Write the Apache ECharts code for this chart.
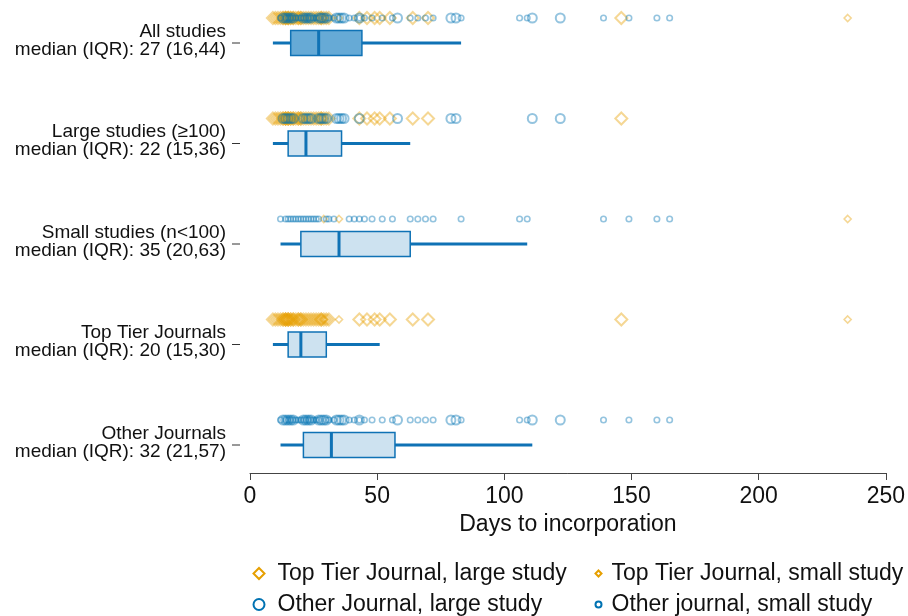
<!DOCTYPE html>
<html>
<head>
<meta charset="utf-8">
<script src="https://cdn.jsdelivr.net/npm/echarts@6/dist/echarts.min.js"></script>
<style>
  html, body { margin: 0; padding: 0; background: #fff; }
  #main { width: 908px; height: 616px; }
</style>
</head>
<body>
<div id="main"></div>
<script>
// rows of the chart, top to bottom
var categories = ['All studies', 'Large studies (\u2265100)', 'Small studies (n<100)', 'Top Tier Journals', 'Other Journals'];
var medians = [27, 22, 35, 20, 32];
var q1s = [16, 15, 20, 15, 21];
var q3s = [44, 36, 63, 30, 57];
var whiskerLow = [9, 9, 12, 9, 12];
var whiskerHigh = [83, 63, 109, 51, 111];

// days to incorporation per study
var ttLarge = [9, 10, 11, 12, 13, 13, 14, 14, 14, 15, 15, 15, 16, 16, 17, 17, 18, 19, 19, 20, 20,
  21, 22, 23, 24, 25, 26, 27, 28, 28, 29, 30, 31, 43, 46, 49, 51, 55, 64, 70, 146];
var ttSmall = [29, 35, 235];
var otherLarge = [13, 14, 15, 16, 17, 21, 22, 23, 24, 27, 28, 29, 30, 34, 35, 36, 37, 43, 58, 79, 81, 111, 122];
var otherSmall = [12, 14, 15, 16, 17, 18, 19, 20, 21, 22, 23, 24, 25, 26, 27, 30, 31, 33, 39, 41, 43, 45,
  48, 52, 56, 63, 66, 69, 72, 83, 106, 109, 139, 149, 160, 165];

var xTicks = [0, 50, 100, 150, 200, 250];

var chart = echarts.init(document.getElementById('main'));
var font = 'Liberation Sans';
var blue = '#0f72b5';

function rowsOf(values, rows) {
  var out = [];
  rows.forEach(function (r) {
    values.forEach(function (v) { out.push([v, r]); });
  });
  return out;
}

var boxData = categories.map(function (c, i) {
  return [i, whiskerLow[i], q1s[i], medians[i], q3s[i], whiskerHigh[i]];
});

function pointSeries(name, symbol, size, color, lw, data) {
  return {
    name: name,
    type: 'scatter',
    symbol: symbol,
    symbolSize: size,
    symbolOffset: [0, -25],
    clip: false,
    itemStyle: { color: 'rgba(0,0,0,0)', borderColor: color, borderWidth: lw, opacity: 0.42 },
    emphasis: { disabled: true },
    data: data
  };
}

var option = {
  animation: false,
  backgroundColor: '#fff',
  textStyle: { fontFamily: font },
  grid: { left: 250, right: 22, top: 43, bottom: 171 },
  xAxis: {
    type: 'value',
    min: xTicks[0],
    max: xTicks[xTicks.length - 1],
    interval: 50,
    offset: 28,
    splitLine: { show: false },
    axisLine: { show: true, lineStyle: { color: '#444', width: 1 } },
    axisTick: { show: true, length: 7, lineStyle: { color: '#444' } },
    axisLabel: { fontSize: 23, color: '#111', margin: 12, fontFamily: font },
    name: 'Days to incorporation',
    nameLocation: 'middle',
    nameGap: 39,
    nameTextStyle: { fontSize: 23, color: '#111', fontFamily: font }
  },
  yAxis: {
    type: 'category',
    inverse: true,
    boundaryGap: false,
    data: categories,
    offset: 10,
    axisLine: { show: false },
    axisTick: { show: false },
    axisLabel: {
      color: '#111',
      fontFamily: font,
      align: 'right',
      margin: 14,
      formatter: function (v, i) {
        return '{a|' + v + '}\n{a|median (IQR): ' + medians[i] + ' (' + q1s[i] + ',' + q3s[i] + ')}\n{s| }';
      },
      rich: {
        a: { fontSize: 19, lineHeight: 18, color: '#111', fontFamily: font, align: 'right' },
        s: { fontSize: 5, lineHeight: 5, align: 'right' }
      }
    }
  },
  legend: [{
    orient: 'vertical',
    left: 252.5,
    top: 562,
    padding: 0,
    itemGap: 8,
    itemWidth: 11,
    itemHeight: 11,
    itemStyle: { opacity: 1, borderWidth: 2 },
    textStyle: { fontSize: 23, color: '#111', fontFamily: font, padding: [0, 0, 0, 8] },
    data: ['Top Tier Journal, large study', 'Other Journal, large study']
  }, {
    orient: 'vertical',
    left: 594.5,
    top: 562,
    padding: 0,
    itemGap: 8,
    itemWidth: 6,
    itemHeight: 6,
    itemStyle: { opacity: 1, borderWidth: 2 },
    textStyle: { fontSize: 23, color: '#111', fontFamily: font, padding: [0, 0, 0, 5] },
    data: ['Top Tier Journal, small study', 'Other journal, small study']
  }],
  series: [
    {
      type: 'custom',
      name: 'boxes',
      encode: { x: [1, 2, 3, 4, 5], y: 0 },
      renderItem: function (params, api) {
        var i = api.value(0);
        var lo = api.coord([api.value(1), i]);
        var a = api.coord([api.value(2), i]);
        var m = api.coord([api.value(3), i]);
        var b = api.coord([api.value(4), i]);
        var hi = api.coord([api.value(5), i]);
        var x0 = api.coord([xTicks[0], i])[0];
        var cy = lo[1], h = 25;
        var fill = i === 0 ? '#66aad6' : '#cde2f0';
        return {
          type: 'group',
          children: [
            // category tick, drawn just left of the plot like the y axis tick
            { type: 'line', shape: { x1: x0 - 18, y1: cy, x2: x0 - 10, y2: cy }, style: { stroke: '#333', lineWidth: 1 } },
            { type: 'line', shape: { x1: lo[0], y1: cy, x2: a[0], y2: cy }, style: { stroke: blue, lineWidth: 3 } },
            { type: 'line', shape: { x1: b[0], y1: cy, x2: hi[0], y2: cy }, style: { stroke: blue, lineWidth: 3 } },
            { type: 'rect', shape: { x: a[0], y: cy - h / 2, width: b[0] - a[0], height: h }, style: { fill: fill, stroke: blue, lineWidth: 1.5 } },
            { type: 'line', shape: { x1: m[0], y1: cy - h / 2, x2: m[0], y2: cy + h / 2 }, style: { stroke: blue, lineWidth: 3 } }
          ]
        };
      },
      data: boxData,
      z: 1
    },
    pointSeries('Top Tier Journal, large study', 'diamond', 12, '#E69F00', 2, rowsOf(ttLarge, [0, 1, 3])),
    pointSeries('Top Tier Journal, small study', 'diamond', 7, '#E69F00', 1.6, rowsOf(ttSmall, [0, 2, 3])),
    pointSeries('Other Journal, large study', 'circle', 9, '#0072B2', 2, rowsOf(otherLarge, [0, 1, 4])),
    pointSeries('Other journal, small study', 'circle', 5.5, '#0072B2', 1.6, rowsOf(otherSmall, [0, 2, 4]))
  ]
};

chart.setOption(option);
</script>
</body>
</html>
